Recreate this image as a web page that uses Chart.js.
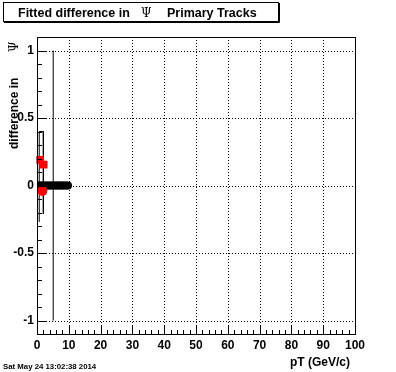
<!DOCTYPE html>
<html>
<head>
<meta charset="utf-8">
<script src="https://cdn.jsdelivr.net/npm/chart.js@4/dist/chart.umd.min.js"></script>
<style>
  body { margin: 0; background: #fff; }
  canvas { display: block; }
</style>
</head>
<body>
<canvas id="myChart" width="396" height="372"></canvas>
<script>
//------------------------------data-----------------

// black markers: fitted difference of the primary tracks, all sitting on 0
const blackX = [0.25, 0.75, 1.25, 1.75, 2.25, 2.75, 3.25, 3.75, 4.25, 4.75,
                5.25, 5.75, 6.25, 6.75, 7.25, 7.75, 8.25, 8.75, 9.25, 9.75];
const blackY = [0, 0, 0, 0, 0, 0, 0, 0, 0, 0,
                0, 0, 0, 0, 0, 0, 0, 0, 0, 0];

// red squares
const squareX = [1.0, 2.1];
const squareY = [0.19, 0.155];

// red circle
const circleX = [1.7];
const circleY = [-0.04];

// error bars (open box round the red points, and the long one)
const boxX = [0.7, 0.7, 2.0, 2.0];
const boxY = [-0.27, 0.4, 0.4, -0.21];
const longX = [5.1, 5.1];
const longY = [-1, 1];

// axes
const xTicks = [0, 10, 20, 30, 40, 50, 60, 70, 80, 90, 100];
const yTicks = [-1, -0.5, 0, 0.5, 1];

const toPoints = (xs, ys) => xs.map((x, i) => ({x: x, y: ys[i]}));

//------------------------------ROOT look: frame, inward ticks, dotted grid-----------------

const rootFrame = {
    id: 'rootFrame',
    beforeDatasetsDraw(chart) {
        const ctx = chart.ctx;
        const a = chart.chartArea;
        const xs = chart.scales.x, ys = chart.scales.y;
        ctx.save();
        ctx.strokeStyle = '#000';
        ctx.lineWidth = 1;
        ctx.setLineDash([1, 2]);
        xTicks.forEach(v => {
            const p = Math.round(xs.getPixelForValue(v)) + 0.5;
            if (p <= a.left + 1 || p >= a.right - 1) return;
            ctx.beginPath(); ctx.moveTo(p, a.top); ctx.lineTo(p, a.bottom); ctx.stroke();
        });
        yTicks.forEach(v => {
            const p = Math.round(ys.getPixelForValue(v)) + 0.5;
            ctx.beginPath(); ctx.moveTo(a.left, p); ctx.lineTo(a.right, p); ctx.stroke();
        });
        ctx.restore();
    },
    afterDraw(chart) {
        const ctx = chart.ctx;
        const a = chart.chartArea;
        const xs = chart.scales.x, ys = chart.scales.y;
        const L = Math.round(a.left) + 0.5, R = Math.round(a.right) + 0.5;
        const T = Math.round(a.top) + 0.5, B = Math.round(a.bottom) + 0.5;
        ctx.save();
        ctx.strokeStyle = '#000';
        ctx.lineWidth = 1;
        ctx.strokeRect(L, T, R - L, B - T);

        // x ticks, pointing up
        ctx.beginPath();
        for (let v = 0; v <= 100.001; v += 2) {
            const p = Math.round(xs.getPixelForValue(v)) + 0.5;
            const len = (Math.round(v) % 10 === 0) ? 9 : 4.5;
            ctx.moveTo(p, B); ctx.lineTo(p, B - len);
        }
        // y ticks, pointing right
        for (let v = -1.1; v <= 1.1001; v += 0.1) {
            const p = Math.round(ys.getPixelForValue(v)) + 0.5;
            const major = Math.abs(Math.round(v * 10) % 5) === 0;
            ctx.moveTo(L, p); ctx.lineTo(L + (major ? 9 : 4.5), p);
        }
        ctx.stroke();

        // title box
        ctx.strokeRect(3.5, 2.5, 275, 19);
        ctx.beginPath();
        ctx.moveTo(4, 22.5); ctx.lineTo(279.5, 22.5); ctx.lineTo(279.5, 3);
        ctx.stroke();
        ctx.fillStyle = '#000';
        ctx.textBaseline = 'alphabetic';
        ctx.textAlign = 'left';
        ctx.font = 'bold 12.5px "Liberation Sans", Arial, sans-serif';
        ctx.fillText('Fitted difference in', 18, 17);
        ctx.fillText('Primary Tracks', 167, 17);
        ctx.font = '12px "DejaVu Serif", serif';
        ctx.fillText('\u03A8', 141, 17);

        // y title, rotated
        ctx.save();
        ctx.translate(18, 149);
        ctx.rotate(-Math.PI / 2);
        ctx.font = 'bold 12px "Liberation Sans", Arial, sans-serif';
        ctx.fillText('difference in', 0, 0);
        ctx.font = '12px "DejaVu Serif", serif';
        ctx.fillText('\u03A8', 97, 0);
        ctx.restore();

        // x title
        ctx.textAlign = 'right';
        ctx.font = 'bold 12px "Liberation Sans", Arial, sans-serif';
        ctx.fillText('pT (GeV/c)', 350, 366);

        // date stamp
        ctx.textAlign = 'left';
        ctx.font = 'bold 7.8px "Liberation Sans", Arial, sans-serif';
        ctx.fillText('Sat May 24 13:02:38 2014', 3, 369);
        ctx.restore();
    }
};

//------------------------------chart-----------------

const dataDIFF = {
    datasets: [
        {
            label: 'red circle',
            data: toPoints(circleX, circleY),
            pointStyle: 'circle',
            pointRadius: 5,
            backgroundColor: 'rgb(255,0,0)',
            borderWidth: 0,
            clip: false,
            order: 1
        },
        {
            label: 'red squares',
            data: toPoints(squareX, squareY),
            pointStyle: 'rect',
            pointRadius: 5.5,
            backgroundColor: 'rgb(255,0,0)',
            borderWidth: 0,
            clip: false,
            order: 2
        },
        {
            label: 'primary tracks',
            data: toPoints(blackX, blackY),
            pointStyle: 'circle',
            pointRadius: 4,
            backgroundColor: 'rgb(0,0,0)',
            borderWidth: 0,
            order: 3
        },
        {
            label: 'box',
            data: toPoints(boxX, boxY),
            showLine: true,
            borderColor: 'rgb(0,0,0)',
            borderWidth: 1,
            pointRadius: 0,
            fill: false,
            order: 4
        },
        {
            label: 'long error',
            data: toPoints(longX, longY),
            showLine: true,
            borderColor: 'rgb(0,0,0)',
            borderWidth: 1,
            pointRadius: 0,
            fill: false,
            order: 4
        }
    ]
};

const configDIFF = {
    type: 'scatter',
    data: dataDIFF,
    options: {
        responsive: false,
        animation: false,
        events: [],
        layout: { padding: { left: 0, top: 37, right: 41, bottom: 0 } },
        plugins: {
            legend: { display: false },
            tooltip: { enabled: false }
        },
        scales: {
            x: {
                type: 'linear',
                min: 0,
                max: 100,
                afterBuildTicks: s => { s.ticks = xTicks.map(v => ({value: v})); },
                afterFit: s => { s.height = 38; },
                grid: { display: false, drawTicks: false },
                border: { display: false },
                ticks: {
                    padding: 4,
                    maxRotation: 0,
                    autoSkip: false,
                    color: '#000',
                    font: { family: '"Liberation Sans", Arial, sans-serif', size: 12, weight: 'bold' }
                }
            },
            y: {
                type: 'linear',
                min: -1.1,
                max: 1.1,
                afterBuildTicks: s => { s.ticks = yTicks.map(v => ({value: v})); },
                afterFit: s => { s.width = 37; },
                grid: { display: false, drawTicks: false },
                border: { display: false },
                ticks: {
                    padding: 3,
                    autoSkip: false,
                    color: '#000',
                    callback: v => String(v),
                    font: { family: '"Liberation Sans", Arial, sans-serif', size: 12, weight: 'bold' }
                }
            }
        }
    },
    plugins: [rootFrame]
};

var chartDIFF = new Chart(
    document.getElementById('myChart'),
    configDIFF
);
</script>
</body>
</html>
